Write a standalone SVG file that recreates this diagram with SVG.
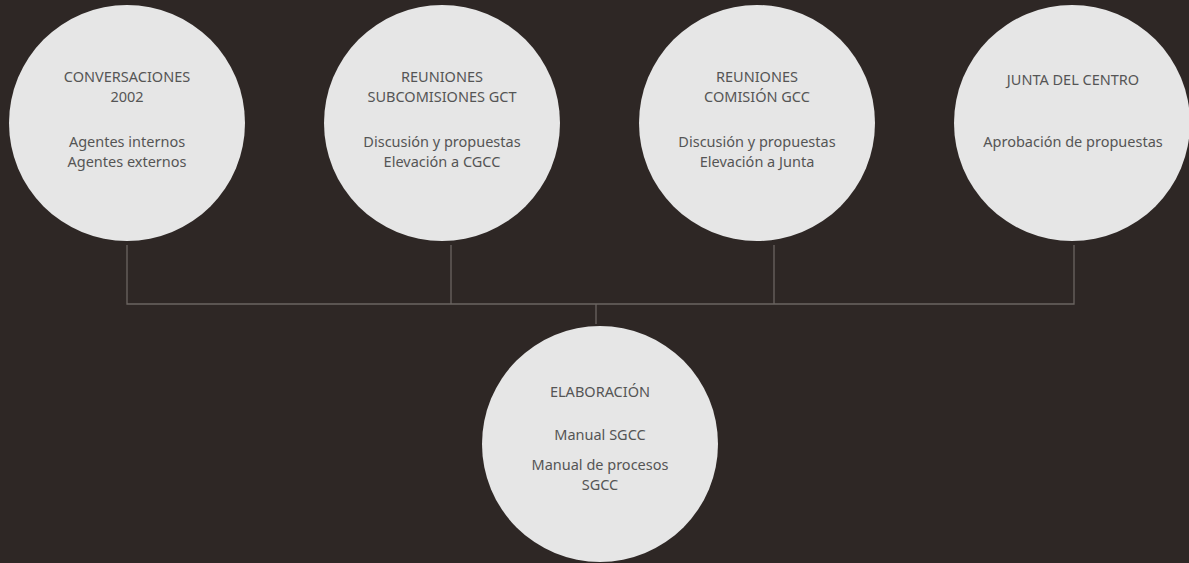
<svg xmlns="http://www.w3.org/2000/svg" width="1189" height="563" viewBox="0 0 1189 563">
<style>
.bg{fill:#2e2725}
.node circle{fill:#e6e6e6}
.node text{font-family:"Noto Sans","Open Sans",sans-serif;font-size:14.5px;fill:#555;text-anchor:middle}
.conn{stroke:#6b6561;stroke-width:1.3;fill:none}
</style>
<rect class="bg" x="0" y="0" width="1189" height="563"/>
<g id="connectors" class="conn">
<path d="M127 245V304H1074V245"/>
<path d="M451 245V304"/>
<path d="M774 245V304"/>
<path d="M596 304V324"/>
</g>
<g id="n1" class="node">
<circle cx="127" cy="123" r="118"/>
<text x="127" y="82">CONVERSACIONES</text>
<text x="127" y="102">2002</text>
<text x="127" y="147">Agentes internos</text>
<text x="127" y="167">Agentes externos</text>
</g>
<g id="n2" class="node">
<circle cx="442" cy="123" r="118"/>
<text x="442" y="82">REUNIONES</text>
<text x="442" y="102">SUBCOMISIONES GCT</text>
<text x="442" y="147">Discusión y propuestas</text>
<text x="442" y="167">Elevación a CGCC</text>
</g>
<g id="n3" class="node">
<circle cx="757" cy="123" r="118"/>
<text x="757" y="82">REUNIONES</text>
<text x="757" y="102">COMISIÓN GCC</text>
<text x="757" y="147">Discusión y propuestas</text>
<text x="757" y="167">Elevación a Junta</text>
</g>
<g id="n4" class="node">
<circle cx="1072" cy="123" r="118"/>
<text x="1073" y="85">JUNTA DEL CENTRO</text>
<text x="1073" y="147">Aprobación de propuestas</text>
</g>
<g id="n5" class="node">
<circle cx="600" cy="444" r="118"/>
<text x="600" y="397">ELABORACIÓN</text>
<text x="600" y="440">Manual SGCC</text>
<text x="600" y="470">Manual de procesos</text>
<text x="600" y="490">SGCC</text>
</g>
</svg>
